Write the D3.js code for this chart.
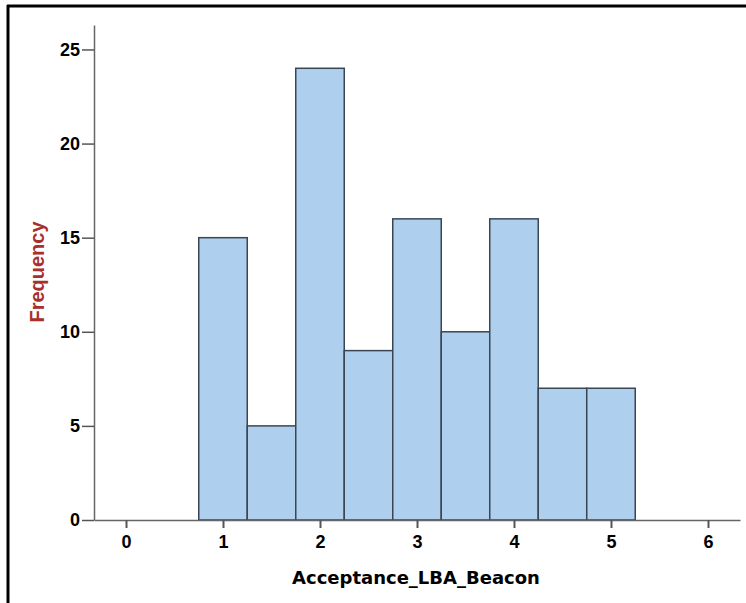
<!DOCTYPE html>
<html>
<head>
<meta charset="utf-8">
<script src="https://cdn.jsdelivr.net/npm/d3@7"></script>
<style>
  body { margin: 0; background: #fff; }
</style>
</head>
<body>
<div id="chart"></div>
<script>
// histogram bins (left edge, right edge) and their counts
var binStart = [0.75, 1.25, 1.75, 2.25, 2.75, 3.25, 3.75, 4.25, 4.75]
var binEnd   = [1.25, 1.75, 2.25, 2.75, 3.25, 3.75, 4.25, 4.75, 5.25]
var counts   = [15, 5, 24, 9, 16, 10, 16, 7, 7]
var xTicks = [0, 1, 2, 3, 4, 5, 6]
var yTicks = [0, 5, 10, 15, 20, 25]

var width = 746, height = 603;
var svg = d3.select('#chart')
            .append('svg')
            .attr('width', width)
            .attr('height', height)

// frame: only top and left edges visible
svg.append('line').attr('x1', 7).attr('x2', width).attr('y1', 6).attr('y2', 6)
    .attr('stroke', '#000').attr('stroke-width', 3)
svg.append('line').attr('x1', 8).attr('x2', 8).attr('y1', 5).attr('y2', height)
    .attr('stroke', '#000').attr('stroke-width', 3)

var x = d3.scaleLinear().domain([-0.33, 6.33]).range([94, 740]);
var y = d3.scaleLinear().domain([0, 26.3]).range([520, 25]);

var bins = counts.map(function (c, i) { return {x0: binStart[i], x1: binEnd[i], n: c} });

svg.append('g')
    .selectAll('rect')
    .data(bins)
    .enter()
    .append('rect')
    .attr('x', d => x(d.x0))
    .attr('width', d => x(d.x1) - x(d.x0))
    .attr('y', d => y(d.n))
    .attr('height', d => y(0) - y(d.n))
    .attr('fill', '#aecfee')
    .attr('stroke', '#3a4654')
    .attr('stroke-width', 1.5)

var xAxis = svg.append('g')
    .attr('transform', `translate(0,${y(0)})`)
    .call(d3.axisBottom(x).tickValues(xTicks).tickFormat(d3.format('d')).tickSize(8).tickSizeOuter(0).tickPadding(7))
xAxis.select('.domain').attr('stroke', '#666').attr('stroke-width', 1.5)
xAxis.selectAll('.tick line').attr('stroke', '#555').attr('stroke-width', 2)

var yAxis = svg.append('g')
    .attr('transform', `translate(${x.range()[0]},0)`)
    .call(d3.axisLeft(y).tickValues(yTicks).tickFormat(d3.format('d')).tickSize(12).tickSizeOuter(0).tickPadding(2))
yAxis.select('.domain').attr('stroke', '#666').attr('stroke-width', 1.5)
yAxis.selectAll('.tick line').attr('stroke', '#555').attr('stroke-width', 1.5)

svg.selectAll('.tick text')
    .style('font-family', 'Arial, "Liberation Sans", sans-serif')
    .style('font-weight', 'bold')
    .style('font-size', '18px')
    .style('fill', '#000')

svg.append('text')
    .attr('x', 416)
    .attr('y', 584)
    .attr('text-anchor', 'middle')
    .style('font-family', '"DejaVu Sans", sans-serif')
    .style('font-weight', 'bold')
    .style('font-size', '18px')
    .text('Acceptance_LBA_Beacon')

svg.append('text')
    .attr('transform', `translate(44,272)rotate(-90)`)
    .attr('text-anchor', 'middle')
    .style('font-family', 'Arial, "Liberation Sans", sans-serif')
    .style('font-weight', 'bold')
    .style('font-size', '20px')
    .style('fill', '#a8302c')
    .text('Frequency')
</script>
</body>
</html>
